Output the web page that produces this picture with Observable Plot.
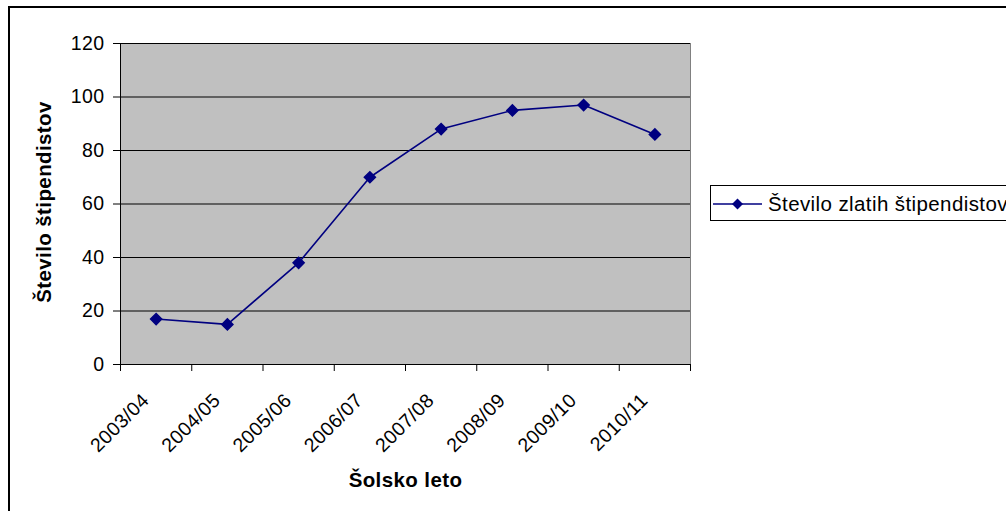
<!DOCTYPE html>
<html><head><meta charset="utf-8">
<script src="https://cdn.jsdelivr.net/npm/d3@7"></script>
<script src="https://cdn.jsdelivr.net/npm/@observablehq/plot@0.6"></script>
<style>body{margin:0;background:#fff;overflow:hidden}</style>
</head><body><div id="chart"></div>
<script>
const categories = ["2003/04","2004/05","2005/06","2006/07","2007/08","2008/09","2009/10","2010/11"];
const values = [17, 15, 38, 70, 88, 95, 97, 86];
const yTicks = [0, 20, 40, 60, 80, 100, 120];
const seriesName = "Število zlatih štipendistov";
const xTitle = "Šolsko leto";
const yTitle = "Število štipendistov";

const data = categories.map((c, i) => ({cat: c, pos: i + 0.5, value: values[i]}));
const edges = d3.range(categories.length + 1);
const font = "'Liberation Sans', Arial, sans-serif";
const navy = "#000080";

const chart = Plot.plot({
  width: 1006, height: 511,
  marginLeft: 120, marginRight: 316, marginTop: 43, marginBottom: 147,
  style: {fontFamily: font, fontSize: "19.5px", color: "#000", background: "#fff", overflow: "visible", letterSpacing: "0.4px"},
  x: {domain: [0, categories.length], axis: null},
  y: {domain: [0, 120], axis: null},
  marks: [
    Plot.frame({fill: "#c0c0c0", stroke: "#808080"}),
    Plot.gridY(yTicks, {stroke: "#000", strokeOpacity: 1}),
    Plot.ruleX([0], {stroke: "#000"}),
    Plot.ruleY([0], {stroke: "#000"}),
    Plot.axisY(yTicks, {tickSize: 7, tickPadding: 9, fontSize: 19.5, label: null, tickFormat: d => String(d)}),
    Plot.axisX(edges, {tickSize: 7, tickFormat: () => "", label: null}),
    Plot.text(data, {x: "pos", frameAnchor: "bottom", text: "cat", rotate: -45, textAnchor: "end", lineAnchor: "bottom", dx: -6, dy: 37, fontSize: 19.5}),
    Plot.text([xTitle], {frameAnchor: "bottom", textAnchor: "middle", dy: 122, fontWeight: "bold", fontSize: 20.5}),
    Plot.text([yTitle], {frameAnchor: "left", textAnchor: "middle", dx: -76, dy: -2, rotate: -90, fontWeight: "bold", fontSize: 20.5}),
    Plot.line(data, {x: "pos", y: "value", stroke: navy, strokeWidth: 1.6}),
    Plot.dot(data, {x: "pos", y: "value", symbol: "diamond2", r: 5, fill: navy, stroke: navy})
  ]
});

const svg = d3.select(chart);
// outer chart border
svg.append("rect").attr("x", 9).attr("y", 7).attr("width", 1200).attr("height", 700)
  .attr("fill", "none").attr("stroke", "#000").attr("stroke-width", 2);
// legend
const lg = svg.append("g").attr("text-anchor", "start");
lg.append("rect").attr("x", 710.5).attr("y", 185.5).attr("width", 400).attr("height", 35)
  .attr("fill", "#fff").attr("stroke", "#000").attr("stroke-width", 1);
lg.append("line").attr("x1", 713).attr("x2", 762).attr("y1", 204).attr("y2", 204)
  .attr("stroke", navy).attr("stroke-width", 1.6);
lg.append("path").attr("d", d3.symbol(d3.symbolDiamond2, 78)()).attr("transform", "translate(737.5,204)")
  .attr("fill", navy);
lg.append("text").attr("x", 768).attr("y", 211).attr("font-family", font).attr("font-size", 20.5)
  .attr("text-anchor", "start").attr("fill", "#000").text(seriesName);

document.getElementById("chart").appendChild(chart);
</script>
</body></html>
